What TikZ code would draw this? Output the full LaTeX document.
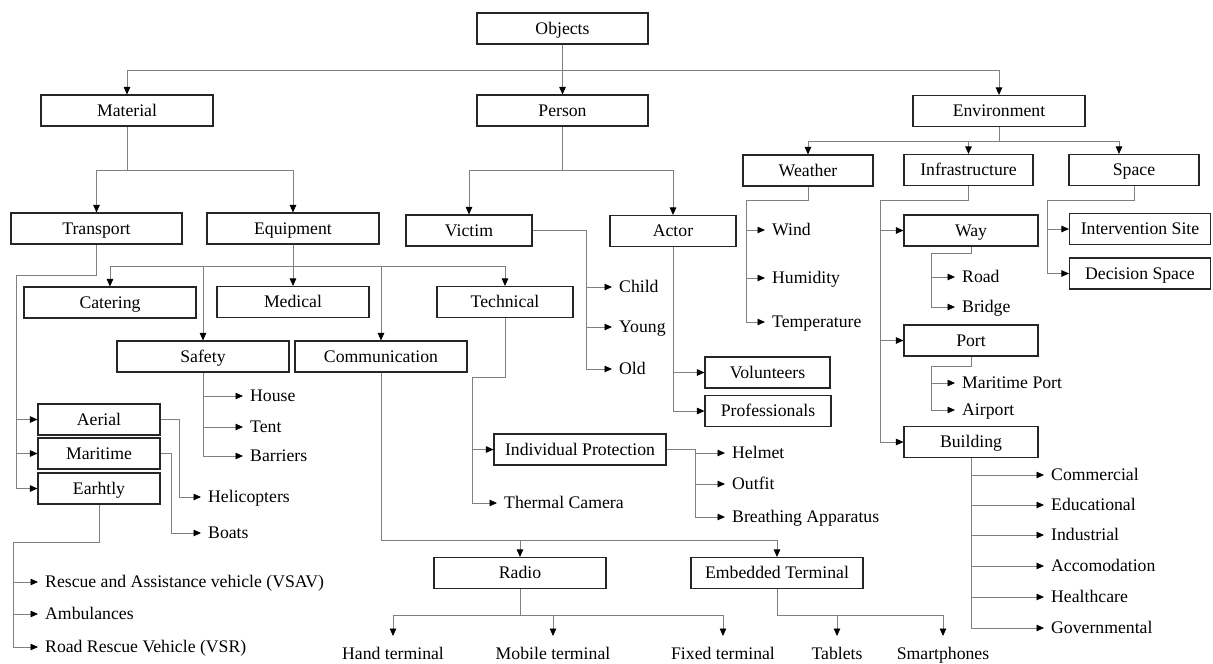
\documentclass[tikz,border=0pt]{standalone}
\usepackage{fontspec}
\setmainfont{Liberation Serif}
\usetikzlibrary{arrows.meta}
\tikzset{
  box/.style={draw=black!85, line width=1.1pt, minimum height=31pt, inner sep=0pt, text height=11pt, text depth=0pt},
  leaf/.style={anchor=west, inner xsep=7pt, inner ysep=0pt, text height=11pt, text depth=0pt},
  tip/.style={anchor=north, inner xsep=0pt, inner ysep=11pt},
  link/.style={draw=black!50, line width=0.8pt, -{Triangle[length=7.5pt,width=6.5pt,color=black]}}
}
\begin{document}
\begin{tikzpicture}[x=1pt,y=-1pt,every node/.style={font=\fontsize{17.7}{21}\selectfont}]
\useasboundingbox (0,0) rectangle (1213,664);
\node[box, minimum width=171] (objects) at (562.5,28.5) {Objects};
\node[box, minimum width=172] (material) at (127,110.5) {Material};
\node[box, minimum width=171] (person) at (562.5,110.5) {Person};
\node[box, minimum width=172] (environment) at (999,111) {Environment};
\node[box, minimum width=171] (transport) at (96.5,228.5) {Transport};
\node[box, minimum width=172] (equipment) at (293,228.5) {Equipment};
\node[box, minimum width=126] (victim) at (469,230.5) {Victim};
\node[box, minimum width=126] (actor) at (673,231) {Actor};
\node[box, minimum width=130] (weather) at (808,170.5) {Weather};
\node[box, minimum width=129] (infra) at (968.5,170) {Infrastructure};
\node[box, minimum width=130] (space) at (1134,170) {Space};
\node[box, minimum width=172] (catering) at (110,302.5) {Catering};
\node[box, minimum width=152] (medical) at (293,302) {Medical};
\node[box, minimum width=136] (technical) at (505,302) {Technical};
\node[box, minimum width=172] (safety) at (203,356.5) {Safety};
\node[box, minimum width=172] (comm) at (381,356.5) {Communication};
\node[box, minimum width=134] (way) at (971,230.5) {Way};
\node[box, minimum width=134] (port) at (971,340.5) {Port};
\node[box, minimum width=134] (building) at (971,442) {Building};
\node[box, minimum width=141] (isite) at (1140,229) {Intervention Site};
\node[box, minimum width=141] (dspace) at (1140,273.5) {Decision Space};
\node[box, minimum width=125] (volunteers) at (767.5,372.5) {Volunteers};
\node[box, minimum width=126] (professionals) at (768,411) {Professionals};
\node[box, minimum width=122] (aerial) at (99,419.5) {Aerial};
\node[box, minimum width=122] (maritime) at (99,453.5) {Maritime};
\node[box, minimum width=122] (earhtly) at (99,488.5) {Earhtly};
\node[box, minimum width=172] (indprot) at (580,449.5) {Individual Protection};
\node[box, minimum width=172] (radio) at (520,573) {Radio};
\node[box, minimum width=172] (embedded) at (777,573) {Embedded Terminal};

\node[leaf] (wind) at (765,230) {Wind};
\node[leaf] (humidity) at (765,278) {Humidity};
\node[leaf] (temperature) at (765,322) {Temperature};
\node[leaf] (road) at (955,277) {Road};
\node[leaf] (bridge) at (955,307) {Bridge};
\node[leaf] (mport) at (955,383) {Maritime Port};
\node[leaf] (airport) at (955,410) {Airport};
\node[leaf] (commercial) at (1044,475) {Commercial};
\node[leaf] (educational) at (1044,505) {Educational};
\node[leaf] (industrial) at (1044,535) {Industrial};
\node[leaf] (accomodation) at (1044,566) {Accomodation};
\node[leaf] (healthcare) at (1044,597) {Healthcare};
\node[leaf] (governmental) at (1044,628) {Governmental};
\node[leaf] (child) at (612,287) {Child};
\node[leaf] (young) at (612,327) {Young};
\node[leaf] (old) at (612,369) {Old};
\node[leaf] (house) at (243,396) {House};
\node[leaf] (tent) at (243,427) {Tent};
\node[leaf] (barriers) at (243,456) {Barriers};
\node[leaf] (helicopters) at (201,497) {Helicopters};
\node[leaf] (boats) at (201,533) {Boats};
\node[leaf] (vsav) at (38,582) {Rescue and Assistance vehicle (VSAV)};
\node[leaf] (ambulances) at (38,614) {Ambulances};
\node[leaf] (vsr) at (38,647) {Road Rescue Vehicle (VSR)};
\node[leaf] (thermal) at (497,503) {Thermal Camera};
\node[leaf] (helmet) at (725,453) {Helmet};
\node[leaf] (outfit) at (725,484) {Outfit};
\node[leaf] (breathing) at (725,517) {Breathing Apparatus};
\node[tip] (hand) at (393,636) {Hand terminal};
\node[tip] (mobile) at (553,636) {Mobile terminal};
\node[tip] (fixed) at (723,636) {Fixed terminal};
\node[tip] (tablets) at (837,636) {Tablets};
\node[tip] (smartphones) at (943,636) {Smartphones};

\coordinate (tbus) at (16,275);
\coordinate (ebus) at (13,542);
\coordinate (tcbus) at (472,377);

\draw[link] (objects.south) -- ++(0,26) -| (material.north);
\draw[link] (objects.south) -- (person.north);
\draw[link] (objects.south) -- ++(0,26) -| (environment.north);
\draw[link] (material.south) -- ++(0,44) -| (transport.north);
\draw[link] (material.south) -- ++(0,44) -| (equipment.north);
\draw[link] (person.south) -- ++(0,44) -| (victim.north);
\draw[link] (person.south) -- ++(0,44) -| (actor.north);
\draw[link] (environment.south) -- ++(0,14) -| (weather.north);
\draw[link] (environment.south) -- ++(0,14) -| (infra.north);
\draw[link] (environment.south) -- ++(0,14) -| ([xshift=-15]space.north);

\draw[link] (equipment.south) -- ++(0,22) -| (catering.north);
\draw[link] (equipment.south) -- (medical.north);
\draw[link] (equipment.south) -- ++(0,22) -| (safety.north);
\draw[link] (equipment.south) -- ++(0,22) -| (comm.north);
\draw[link] (equipment.south) -- ++(0,22) -| (technical.north);

\draw[link] (transport.south) |- (tbus) |- (aerial.west);
\draw[link] (transport.south) |- (tbus) |- (maritime.west);
\draw[link] (transport.south) |- (tbus) |- (earhtly.west);
\draw[link] (aerial.east) -- ++(19,0) |- (helicopters.west);
\draw[link] (maritime.east) -- ++(11,0) |- (boats.west);
\draw[link] (earhtly.south) |- (ebus) |- (vsav.west);
\draw[link] (earhtly.south) |- (ebus) |- (ambulances.west);
\draw[link] (earhtly.south) |- (ebus) |- (vsr.west);

\draw[link] (safety.south) |- (house.west);
\draw[link] (safety.south) |- (tent.west);
\draw[link] (safety.south) |- (barriers.west);

\draw[link] (technical.south) |- (tcbus) |- (indprot.west);
\draw[link] (technical.south) |- (tcbus) |- (thermal.west);
\draw[link] (indprot.east) -- ++(29,0) |- (helmet.west);
\draw[link] (indprot.east) -- ++(29,0) |- (outfit.west);
\draw[link] (indprot.east) -- ++(29,0) |- (breathing.west);

\draw[link] (comm.south) -- ++(0,168) -| (radio.north);
\draw[link] (comm.south) -- ++(0,168) -| (embedded.north);
\draw[link] (radio.south) -- ++(0,26) -| (hand.north);
\draw[link] (radio.south) -- ++(0,26) -| (mobile.north);
\draw[link] (radio.south) -- ++(0,26) -| (fixed.north);
\draw[link] (embedded.south) -- ++(0,26) -| (tablets.north);
\draw[link] (embedded.south) -- ++(0,26) -| (smartphones.north);

\draw[link] (victim.east) -- ++(54,0) |- (child.west);
\draw[link] (victim.east) -- ++(54,0) |- (young.west);
\draw[link] (victim.east) -- ++(54,0) |- (old.west);
\draw[link] (actor.south) |- (volunteers.west);
\draw[link] (actor.south) |- (professionals.west);

\draw[link] (weather.south) -- ++(0,14) -- ++(-62,0) |- (wind.west);
\draw[link] (weather.south) -- ++(0,14) -- ++(-62,0) |- (humidity.west);
\draw[link] (weather.south) -- ++(0,14) -- ++(-62,0) |- (temperature.west);
\draw[link] (infra.south) -- ++(0,14) -- ++(-88,0) |- (way.west);
\draw[link] (infra.south) -- ++(0,14) -- ++(-88,0) |- (port.west);
\draw[link] (infra.south) -- ++(0,14) -- ++(-88,0) |- (building.west);
\draw[link] (way.south) -- ++(0,7) -- ++(-40,0) |- (road.west);
\draw[link] (way.south) -- ++(0,7) -- ++(-40,0) |- (bridge.west);
\draw[link] (port.south) -- ++(0,10) -- ++(-40,0) |- (mport.west);
\draw[link] (port.south) -- ++(0,10) -- ++(-40,0) |- (airport.west);
\draw[link] (building.south) |- (commercial.west);
\draw[link] (building.south) |- (educational.west);
\draw[link] (building.south) |- (industrial.west);
\draw[link] (building.south) |- (accomodation.west);
\draw[link] (building.south) |- (healthcare.west);
\draw[link] (building.south) |- (governmental.west);
\draw[link] (space.south) -- ++(0,14) -- ++(-87,0) |- (isite.west);
\draw[link] (space.south) -- ++(0,14) -- ++(-87,0) |- (dspace.west);
\end{tikzpicture}
\end{document}
